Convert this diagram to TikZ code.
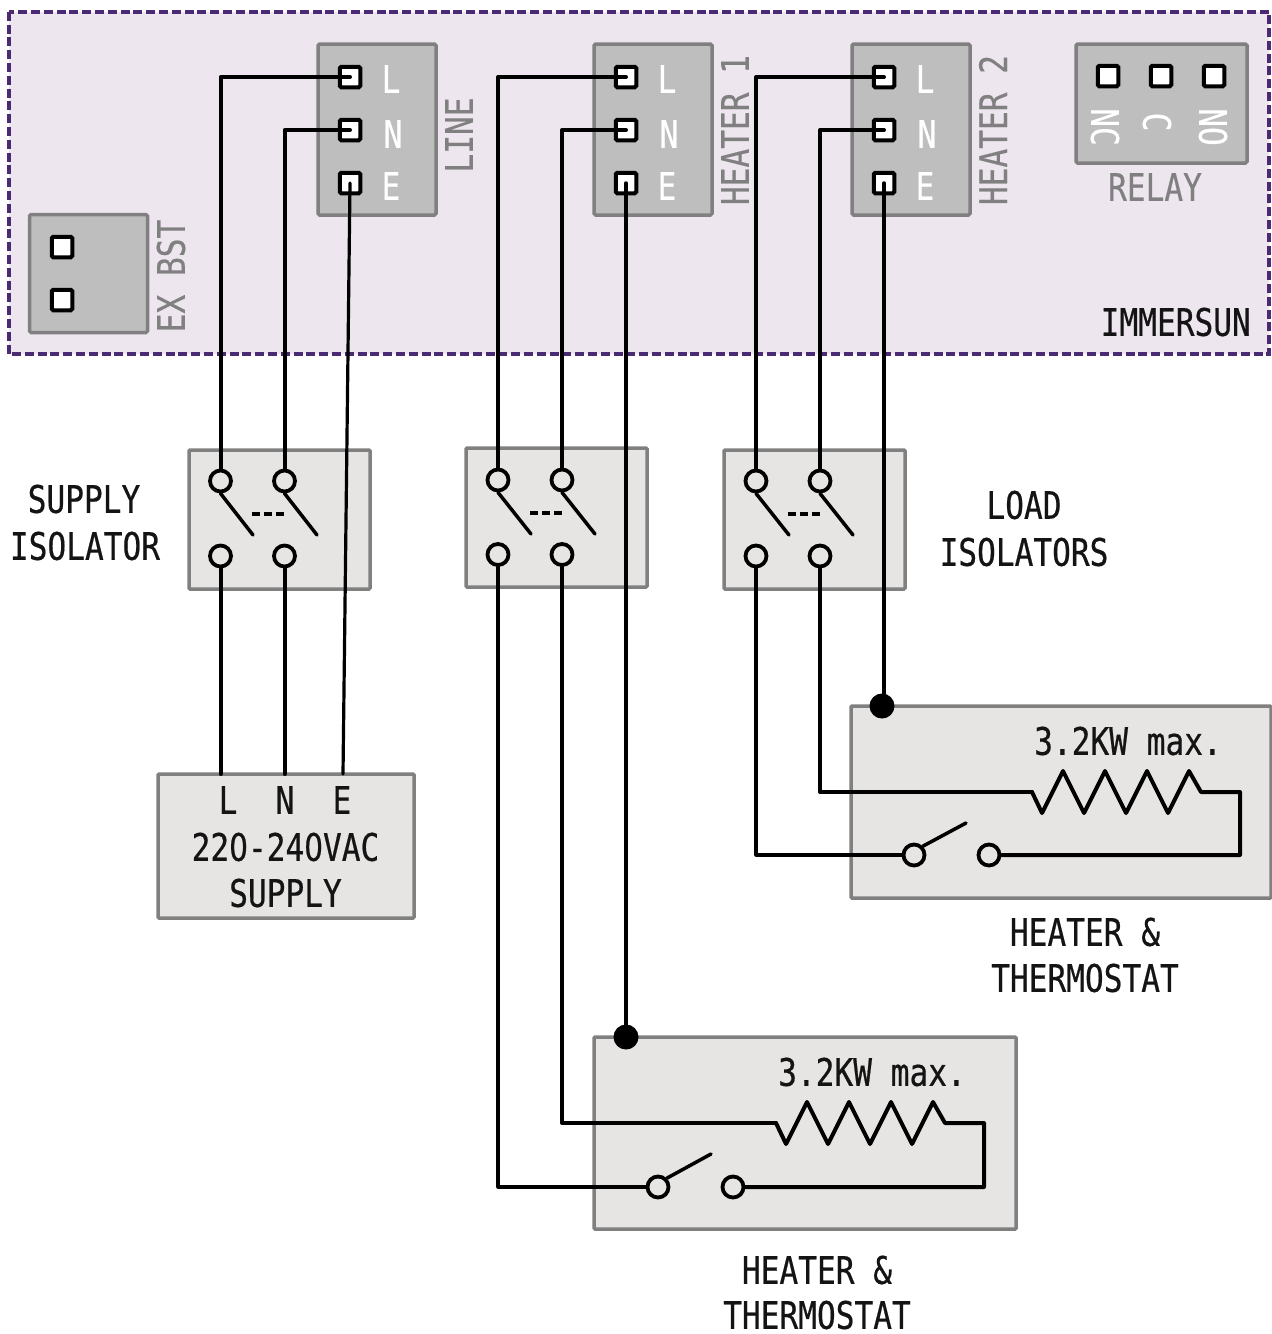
\documentclass[tikz,border=0pt]{standalone}
\usepackage{fontspec}
\setmonofont[FakeStretch=0.82,FakeBold=0.5]{DejaVu Sans Mono}
\newfontfamily\zerofont[FakeStretch=0.776,FakeBold=0.5]{DejaVu Sans}
\definecolor{panelfill}{HTML}{EDE6EE}
\definecolor{paneledge}{HTML}{4A2A73}
\definecolor{blockfill}{HTML}{BEBEBE}
\definecolor{blockedge}{HTML}{808080}
\definecolor{unitfill}{HTML}{E6E5E4}
\tikzset{
  txt/.style={font=\ttfamily\fontsize{38}{40}\selectfont,inner sep=0pt,text=black!92},
  graytxt/.style={txt,text=blockedge},
  whitetxt/.style={txt,text=white},
  block/.style={draw=blockedge,fill=blockfill,line width=3.5pt,rounded corners=1.5pt,inner sep=0pt},
  unit/.style={draw=blockedge,fill=unitfill,line width=3.5pt,rounded corners=1pt,inner sep=0pt},
  term/.style={rectangle,draw=black,fill=white,line width=4pt,rounded corners=1.5pt,minimum size=20.5pt,inner sep=0pt},
  pin/.style={circle,draw=black,line width=3.8pt,minimum size=21pt,inner sep=0pt},
  dot/.style={circle,fill=black,minimum size=25pt,inner sep=0pt},
  wire/.style={line width=4pt,line join=round,line cap=round},
  blade/.style={line width=3.5pt,line cap=round},
  link/.style={line width=4pt,dash pattern=on 8pt off 4pt},
}
\begin{document}
\begin{tikzpicture}[x=1pt,y=-1pt]
\useasboundingbox (0,0) rectangle (1272,1334);

\node[fill=panelfill,minimum width=1260pt,minimum height=342pt,inner sep=0pt] (Panel) at (639,183) {};
\draw[paneledge,line width=3.5pt,dash pattern=on 9pt off 3.8pt] (Panel.north west) rectangle (Panel.south east);
\node[txt,anchor=east] (Immersun) at (1251,322) {IMMERSUN};

% line block
\node[block,minimum width=118pt,minimum height=171pt] (Line) at (377,129.5) {};
\node[term] (LineL) at (350,77) {};
\node[term] (LineN) at (350,130) {};
\node[term] (LineE) at (350,183) {};
\node[whitetxt] at (391,79) {L};
\node[whitetxt] at (393,134) {N};
\node[whitetxt] at (391,186) {E};
\node[graytxt,rotate=90] (LineLabel) at (459,135) {LINE};

% heater 1 block
\node[block,minimum width=118pt,minimum height=171pt] (HeatA) at (653,129.5) {};
\node[term] (HeatAL) at (626,77) {};
\node[term] (HeatAN) at (626,130) {};
\node[term] (HeatAE) at (626,183) {};
\node[whitetxt] at (667,79) {L};
\node[whitetxt] at (669,134) {N};
\node[whitetxt] at (667,186) {E};
\node[graytxt,rotate=90] (HeatALabel) at (735,130) {HEATER 1};

% heater 2 block
\node[block,minimum width=118pt,minimum height=171pt] (HeatB) at (911,129.5) {};
\node[term] (HeatBL) at (884,77) {};
\node[term] (HeatBN) at (884,130) {};
\node[term] (HeatBE) at (884,183) {};
\node[whitetxt] at (925,79) {L};
\node[whitetxt] at (927,134) {N};
\node[whitetxt] at (925,186) {E};
\node[graytxt,rotate=90] (HeatBLabel) at (993,130) {HEATER 2};

% relay block
\node[block,minimum width=171pt,minimum height=119pt] (Relay) at (1161.5,103.5) {};
\node[term] (RelayNC) at (1108,76) {};
\node[term] (RelayC) at (1161,76) {};
\node[term] (RelayNO) at (1214,76) {};
\node[whitetxt,rotate=-90] at (1105,127) {NC};
\node[whitetxt,rotate=-90] at (1157,122) {C};
\node[whitetxt,rotate=-90] at (1213,127) {NO};
\node[graytxt] (RelayLabel) at (1155,187) {RELAY};

% ex bst block
\node[block,minimum width=118pt,minimum height=118pt] (ExBst) at (88.5,273.5) {};
\node[term] (ExA) at (62,247) {};
\node[term] (ExB) at (62,300) {};
\node[graytxt,rotate=90] (ExLabel) at (171,276) {EX BST};

% isolators
\node[unit,minimum width=181pt,minimum height=139pt] (IsoS) at (279.5,519.5) {};
\node[pin] (IsoSa) at (220.5,481) {};
\node[pin] (IsoSb) at (284.5,481) {};
\node[pin] (IsoSc) at (220.5,556) {};
\node[pin] (IsoSd) at (284.5,556) {};
\coordinate (IsoSe) at (253,535);
\coordinate (IsoSf) at (317,535);
\draw[blade] (IsoSa.south) -- (IsoSe);
\draw[blade] (IsoSb.south) -- (IsoSf);
\draw[link] (252,514) -- (284,514);
\node[txt] at (84,499) {SUPPLY};
\node[txt] at (85,546) {ISOLATOR};

\node[unit,minimum width=181pt,minimum height=139pt] (IsoA) at (556.5,517.5) {};
\node[pin] (IsoAa) at (498,480) {};
\node[pin] (IsoAb) at (562,480) {};
\node[pin] (IsoAc) at (498,554.5) {};
\node[pin] (IsoAd) at (562,554.5) {};
\coordinate (IsoAe) at (531,534);
\coordinate (IsoAf) at (595,534);
\draw[blade] (IsoAa.south) -- (IsoAe);
\draw[blade] (IsoAb.south) -- (IsoAf);
\draw[link] (530,513) -- (562,513);

\node[unit,minimum width=181pt,minimum height=139pt] (IsoB) at (814.5,519.5) {};
\node[pin] (IsoBa) at (756,481) {};
\node[pin] (IsoBb) at (820,481) {};
\node[pin] (IsoBc) at (756,556) {};
\node[pin] (IsoBd) at (820,556) {};
\coordinate (IsoBe) at (789,535);
\coordinate (IsoBf) at (853,535);
\draw[blade] (IsoBa.south) -- (IsoBe);
\draw[blade] (IsoBb.south) -- (IsoBf);
\draw[link] (788,514) -- (820,514);
\node[txt] at (1024,505) {LOAD};
\node[txt] at (1024,552) {ISOLATORS};

% supply
\node[unit,minimum width=256pt,minimum height=144pt] (Supply) at (286,846) {};
\node[txt] at (228,800) {L};
\node[txt] at (285,800) {N};
\node[txt] at (342,800) {E};
\node[txt] at (285.5,847) {22{\zerofont 0}-24{\zerofont 0}VAC};
\node[txt] at (285.5,893) {SUPPLY};
\coordinate (SupplyL) at (220.5,774);
\coordinate (SupplyN) at (284.5,774);
\coordinate (SupplyE) at (343,774);

\draw[wire] (LineL.center) -| (IsoSa.north);
\draw[wire] (LineN.center) -| (IsoSb.north);
\draw[wire,line width=3.2pt] (LineE.center) -- (SupplyE);
\draw[wire] (IsoSc.south) -- (SupplyL);
\draw[wire] (IsoSd.south) -- (SupplyN);

% heater units
\node[unit,minimum width=420pt,minimum height=192pt] (UnitB) at (1061,802) {};
\node[pin] (ThermBa) at (914,855) {};
\node[pin] (ThermBb) at (989,855) {};
\coordinate (ThermBc) at (966,823);
\coordinate (ResB) at (1032,792);
\node[dot] (DotB) at (882,706) {};
\node[txt] at (1128,741) {3.2KW max.};
\node[txt] at (1085,932) {HEATER \&};
\node[txt] at (1085,978) {THERMOSTAT};

\draw[blade] (ThermBa.north east) -- (ThermBc);
\draw[wire] (ResB) -- ++(10,21) -- ++(21,-42) -- ++(21,42) -- ++(21,-42) -- ++(21,42) -- ++(21,-42) -- ++(21,42) -- ++(21,-42) -- ++(12,21) -- (1240,792) |- (ThermBb.east);
\draw[wire] (HeatBL.center) -| (IsoBa.north);
\draw[wire] (HeatBN.center) -| (IsoBb.north);
\draw[wire,line width=3.5pt] (HeatBE.center) -- (HeatBE.center |- DotB.north);
\draw[wire,line width=3.2pt] (IsoBc.south) |- (ThermBa.west);
\draw[wire] (IsoBd.south) |- (ResB);

\node[unit,minimum width=422pt,minimum height=192pt] (UnitA) at (805,1133) {};
\node[pin] (ThermAa) at (658,1187) {};
\node[pin] (ThermAb) at (733,1187) {};
\coordinate (ThermAc) at (711,1154);
\coordinate (ResA) at (776,1123);
\node[dot] (DotA) at (626,1037) {};
\node[txt] at (872,1072) {3.2KW max.};
\node[txt] at (817,1270) {HEATER \&};
\node[txt] at (817,1315) {THERMOSTAT};

\draw[blade] (ThermAa.north east) -- (ThermAc);
\draw[wire] (ResA) -- ++(10,21) -- ++(21,-42) -- ++(21,42) -- ++(21,-42) -- ++(21,42) -- ++(21,-42) -- ++(21,42) -- ++(21,-42) -- ++(12,21) -- (984,1123) |- (ThermAb.east);
\draw[wire] (HeatAL.center) -| (IsoAa.north);
\draw[wire] (HeatAN.center) -| (IsoAb.north);
\draw[wire,line width=3.5pt] (HeatAE.center) -- (HeatAE.center |- DotA.north);
\draw[wire,line width=3.2pt] (IsoAc.south) |- (ThermAa.west);
\draw[wire] (IsoAd.south) |- (ResA);

\end{tikzpicture}
\end{document}
